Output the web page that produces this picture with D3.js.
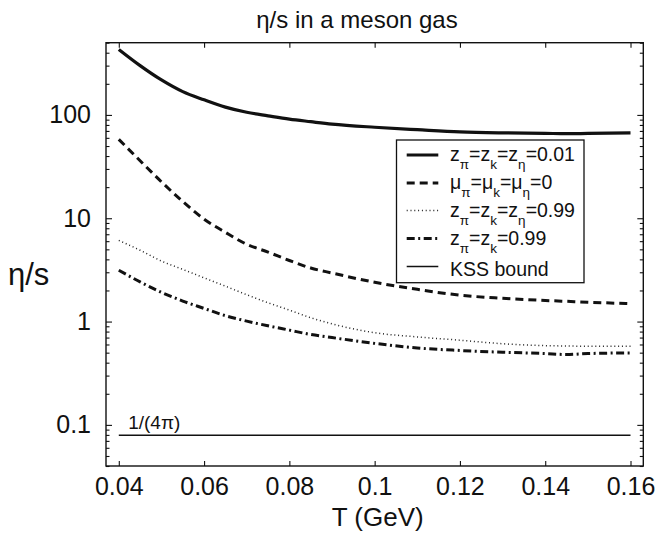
<!DOCTYPE html>
<html>
<head>
<meta charset="utf-8">
<script src="https://cdn.jsdelivr.net/npm/d3@7"></script>
<style>
  html, body { margin: 0; padding: 0; background: #fff; }
  svg text { font-family: "Liberation Sans", Arial, Helvetica, sans-serif; fill: #111; }
</style>
</head>
<body>
<svg id="chart" width="656" height="538"></svg>
<script>
// Temperature grid (GeV) shared by all curves
const temperature = [0.04, 0.045, 0.05, 0.055, 0.06, 0.065, 0.07, 0.075, 0.08, 0.085, 0.09, 0.10, 0.11, 0.12, 0.13, 0.14, 0.145, 0.15, 0.16];

// eta/s for each scenario
const etaSLowFugacity   = [430, 300, 218, 168, 140, 119, 106, 98, 91, 86, 81.5, 76, 72, 68.5, 67, 66.3, 65.8, 66.2, 67];
const etaSZeroChemPot   = [58, 36, 22.5, 14.5, 9.8, 7.3, 5.6, 4.7, 3.9, 3.3, 2.95, 2.4, 2.05, 1.8, 1.68, 1.6, 1.57, 1.54, 1.49];
const etaSAllFugacity   = [6.1, 4.9, 3.85, 3.2, 2.65, 2.2, 1.82, 1.52, 1.29, 1.09, 0.95, 0.78, 0.71, 0.66, 0.61, 0.585, 0.58, 0.577, 0.577];
const etaSPiKFugacity   = [3.14, 2.42, 1.92, 1.58, 1.34, 1.14, 1.01, 0.91, 0.826, 0.75, 0.70, 0.615, 0.555, 0.525, 0.505, 0.49, 0.48, 0.49, 0.497];

// KSS bound 1/(4 pi)
const kssTemperature = [0.04, 0.16];
const kssValue = 1 / (4 * Math.PI);

// Axis ticks
const xTickValues = [0.04, 0.06, 0.08, 0.10, 0.12, 0.14, 0.16];
const xTickLabels = ["0.04", "0.06", "0.08", "0.1", "0.12", "0.14", "0.16"];
const yTickValues = [0.1, 1, 10, 100];
const yTickLabels = ["0.1", "1", "10", "100"];

// Legend entries
const legendLabels = ["z_{π}=z_{k}=z_{η}=0.01", "μ_{π}=μ_{k}=μ_{η}=0", "z_{π}=z_{k}=z_{η}=0.99", "z_{π}=z_{k}=0.99", "KSS bound"];

const svg = d3.select("#chart");
const plotLeft = 106, plotRight = 643.3, plotTop = 42.7, plotBottom = 466;

const x = d3.scaleLinear().domain([0.037, 0.163]).range([plotLeft, plotRight]);
const y = d3.scaleLog().domain([0.04, 500]).range([plotBottom, plotTop]);

// Line styles
const styles = [
  { width: 3.2, dash: null, color: "#111" },
  { width: 3, dash: "8,5", color: "#111" },
  { width: 1.5, dash: "1,2.8", color: "#222" },
  { width: 3, dash: "8,3.5,2,3.5", color: "#111" },
  { width: 1.5, dash: null, color: "#111" }
];

const series = [etaSLowFugacity, etaSZeroChemPot, etaSAllFugacity, etaSPiKFugacity];

const line = d3.line()
  .x(d => x(d[0]))
  .y(d => y(d[1]))
  .curve(d3.curveMonotoneX);

const plot = svg.append("g");

series.forEach((vals, i) => {
  const pts = temperature.map((t, k) => [t, vals[k]]);
  plot.append("path")
    .attr("d", line(pts))
    .attr("fill", "none")
    .attr("stroke", styles[i].color)
    .attr("stroke-width", styles[i].width)
    .attr("stroke-dasharray", styles[i].dash)
    .attr("stroke-linejoin", "round");
});

// KSS bound
plot.append("path")
  .attr("d", line(kssTemperature.map(t => [t, kssValue])))
  .attr("fill", "none")
  .attr("stroke", styles[4].color)
  .attr("stroke-width", styles[4].width);

svg.append("text")
  .attr("x", x(0.0422))
  .attr("y", y(kssValue) - 6)
  .attr("font-size", 19)
  .text("1/(4π)");

// Axes box with inward ticks
const axisColor = "#111";
const xAxisBottom = d3.axisBottom(x).tickValues(xTickValues)
  .tickFormat((d, i) => xTickLabels[i]).tickSizeInner(-5).tickSizeOuter(0).tickPadding(11);
const xAxisTop = d3.axisTop(x).tickValues(xTickValues)
  .tickFormat("").tickSizeInner(-5).tickSizeOuter(0);
const yAxisLeft = d3.axisLeft(y).tickValues(yTickValues)
  .tickFormat((d, i) => yTickLabels[i]).tickSizeInner(-6).tickSizeOuter(0).tickPadding(15);
const yAxisRight = d3.axisRight(y).tickValues(yTickValues)
  .tickFormat("").tickSizeInner(-6).tickSizeOuter(0);

// Minor log ticks
const minorValues = [];
[0.01, 0.1, 1, 10, 100].forEach(dec => {
  for (let m = 2; m <= 9; m++) {
    const v = m * dec;
    if (v >= 0.04 && v <= 500 && !yTickValues.includes(v)) minorValues.push(v);
  }
});
const yMinorLeft = d3.axisLeft(y).tickValues(minorValues).tickFormat("").tickSizeInner(-3.5).tickSizeOuter(0);
const yMinorRight = d3.axisRight(y).tickValues(minorValues).tickFormat("").tickSizeInner(-3.5).tickSizeOuter(0);

function styleAxis(g) {
  g.select(".domain").remove();
  g.selectAll("line").attr("stroke", axisColor).attr("stroke-width", 1.1);
  g.selectAll("text").attr("font-size", 25).attr("fill", "#111")
    .attr("font-family", "'Liberation Sans', Arial, sans-serif");
}

svg.append("g").attr("transform", `translate(0,${plotBottom})`).call(xAxisBottom).call(styleAxis);
svg.append("g").attr("transform", `translate(0,${plotTop})`).call(xAxisTop).call(styleAxis);
svg.append("g").attr("transform", `translate(${plotLeft},0)`).call(yAxisLeft).call(styleAxis);
svg.append("g").attr("transform", `translate(${plotRight},0)`).call(yAxisRight).call(styleAxis);
svg.append("g").attr("transform", `translate(${plotLeft},0)`).call(yMinorLeft).call(styleAxis);
svg.append("g").attr("transform", `translate(${plotRight},0)`).call(yMinorRight).call(styleAxis);

svg.append("rect")
  .attr("x", plotLeft).attr("y", plotTop)
  .attr("width", plotRight - plotLeft).attr("height", plotBottom - plotTop)
  .attr("fill", "none").attr("stroke", axisColor).attr("stroke-width", 1.4);

// Titles
svg.append("text")
  .attr("x", 357).attr("y", 28)
  .attr("text-anchor", "middle")
  .attr("font-size", 24)
  .text("η/s in a meson gas");

svg.append("text")
  .attr("x", (plotLeft + plotRight) / 2 + 3).attr("y", 526)
  .attr("text-anchor", "middle")
  .attr("font-size", 26)
  .text("T (GeV)");

svg.append("text")
  .attr("x", 8).attr("y", 285)
  .attr("font-size", 31)
  .text("η/s");

// Legend
const legend = svg.append("g");
const lgX0 = 396.5, lgY0 = 140, lgX1 = 584, lgY1 = 282.7;
legend.append("rect")
  .attr("x", lgX0).attr("y", lgY0)
  .attr("width", lgX1 - lgX0).attr("height", lgY1 - lgY0)
  .attr("fill", "#fff").attr("stroke", axisColor).attr("stroke-width", 1.3);

const rowY = [155, 183, 210.5, 238.5, 266.5];
legendLabels.forEach((lab, i) => {
  legend.append("line")
    .attr("x1", 406.7).attr("x2", 438.3)
    .attr("y1", rowY[i]).attr("y2", rowY[i])
    .attr("stroke", styles[i].color)
    .attr("stroke-width", styles[i].width)
    .attr("stroke-dasharray", styles[i].dash);

  const hasSub = lab.includes("_{");
  const t = legend.append("text")
    .attr("x", 450)
    .attr("y", rowY[i] + (hasSub ? 6 : 9.5))
    .attr("font-size", 19.5);
  // split into normal and subscript pieces
  const parts = lab.split(/(_\{[^}]*\})/).filter(s => s.length);
  let shifted = false;
  parts.forEach(p => {
    if (p.startsWith("_{")) {
      t.append("tspan").attr("dy", 8).attr("font-size", 13.5).attr("fill", "#111").text(p.slice(2, -1));
      shifted = true;
    } else {
      t.append("tspan").attr("dy", shifted ? -8 : 0).attr("fill", "#111").text(p);
      shifted = false;
    }
  });
});
</script>
</body>
</html>
